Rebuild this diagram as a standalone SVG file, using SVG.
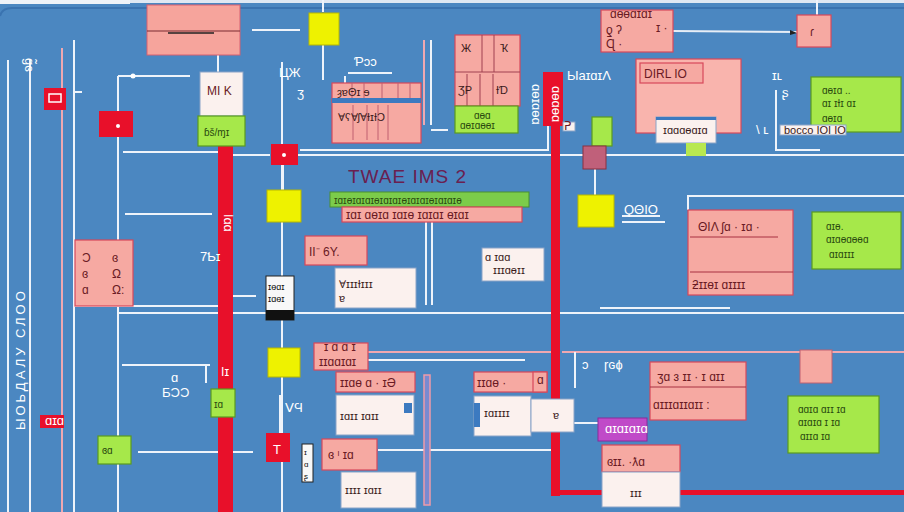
<svg xmlns="http://www.w3.org/2000/svg" width="904" height="512" viewBox="0 0 904 512">
  <style>
    .bg{fill:#4b87c1}
    .ln{stroke:#eef3fa;stroke-width:2;fill:none}
    .lnp{stroke:#f0a8b0;stroke-width:2;fill:none}
    .pink{fill:#f6a9a2;stroke:#d8485a;stroke-width:1.2}
    .red{fill:#e8102a}
    .yel{fill:#eef200;stroke:#b8b800;stroke-width:1}
    .grn{fill:#a6e84a;stroke:#5a9a20;stroke-width:1.2}
    .wht{fill:#fbf1ee;stroke:#8aa4c8;stroke-width:1}
    .t{font-family:"Liberation Sans",Arial,sans-serif;font-size:12px;fill:#6a1a24}
    .tw{font-family:"Liberation Sans",Arial,sans-serif;font-size:13px;fill:#ffffff}
    .tg{font-family:"Liberation Sans",Arial,sans-serif;font-size:10px;fill:#2a4a10}
    .tb{font-family:"Liberation Sans",Arial,sans-serif;font-size:11px;fill:#3a1a1a}
  </style>
  <rect class="bg" width="904" height="512"/>
  <!-- top frame -->
  <rect x="0" y="0" width="130" height="4" fill="#eef2f8"/>
  <rect x="130" y="0" width="774" height="3" fill="#dfe8f3"/>
  <path d="M0 16 Q2 8 12 8 L904 8" stroke="#3a73b0" stroke-width="2" fill="none"/>

  <g id="connectors">
    <!-- left rails -->
    <path class="ln" d="M8 60 V512"/>
    <path class="ln" d="M30 60 V512"/>
    <path class="lnp" d="M62 48 V512"/>
    <path class="ln" d="M74 40 V512"/>
    <path class="ln" d="M118 76 V512"/>
    <path class="ln" d="M118 76 H190"/>
    <circle cx="133" cy="76" r="2.5" fill="#fff"/>
    <path class="ln" d="M74 92 H82"/>
    <path class="ln" d="M218 55 V72"/>
    <path class="ln" d="M252 30 H300"/>
    <!-- long horizontal rails -->
    <path class="ln" d="M123 152 H218"/>
    <path class="ln" d="M233 155 H270"/>
    <path class="ln" d="M298 155 H904"/>
    <path class="ln" d="M125 214 H212"/>
    <path class="ln" d="M75 306 H218"/>
    <path class="ln" d="M118 313 H904"/>
    <path class="ln" d="M600 308 H730"/>
    <!-- yellow top -->
    <path class="ln" d="M323 0 V12"/>
    <path class="ln" d="M323 45 V80"/>
    <path class="ln" d="M282 62 V512"/>
    <path class="ln" d="M283 155 V190"/>
    <path class="ln" d="M348 73 H392"/>
    <path class="ln" d="M345 76 V83"/>
    <!-- double rail near table -->
    <path class="lnp" d="M424 40 V125"/>
    <path class="ln" d="M431 40 V125 M431 130 H448"/>
    <!-- left of red column -->
    <path class="ln" d="M548 118 V150 H300"/>
    <!-- top right -->
    <path d="M672 31 L797 32" stroke="#e6edf6" stroke-width="2" fill="none"/>
    <path d="M790 30 L797 33 L790 35" fill="#222"/>
    <path class="ln" d="M817 0 V15"/>
    <path class="ln" d="M776 90 V150 H820"/>
    <path class="ln" d="M688 210 V196 H904"/>
    <path class="ln" d="M595 169 V195"/>
    <path class="ln" d="M622 222 H665 M622 216 H660"/>
    <!-- mid -->
    <path class="ln" d="M426 222 V305 M432 222 V305"/>
    <path class="ln" d="M233 296 H256"/>
    <path class="ln" d="M122 365 H210 M206 365 V383"/>
    <path class="ln" d="M138 452 H253"/>
    <path class="ln" d="M280 395 V433"/>
    <path class="lnp" d="M368 352 H555"/>
    <path class="ln" d="M368 360 H525"/>
    <path class="lnp" d="M562 352 H904"/>
    <path class="ln" d="M575 352 V388"/>
    <path class="ln" d="M378 450 H555"/>
    <path class="ln" d="M574 423 H600"/>
    <!-- red trunks -->
    <rect class="red" x="218" y="146" width="15" height="366"/>
    <rect class="red" x="543" y="72" width="20" height="54"/>
    <rect class="red" x="551" y="126" width="9" height="370"/>
    <rect class="red" x="551" y="490" width="353" height="5"/>
    <rect x="424" y="375" width="6" height="130" fill="#7a8ad0" stroke="#f09aa8" stroke-width="1.5"/>
  </g>

  <!-- left rotated labels -->
  <g id="side-labels">
    <text class="tw" transform="translate(25,58) rotate(90)" font-size="14">ɡ̃ɞ</text>
    <text class="tw" transform="translate(25,430) rotate(-90)" font-size="17" letter-spacing="3">ЫОЬДАЛУ  СЛОО</text>
  </g>

  <g id="n-top-left">
    <rect x="44" y="88" width="22" height="22" class="red"/>
    <rect x="49" y="94" width="12" height="8" fill="none" stroke="#fff" stroke-width="1.5"/>
  </g>
  <g id="n-red-a">
    <rect x="99" y="111" width="34" height="26" class="red"/>
    <circle cx="118" cy="126" r="2" fill="#fff"/>
  </g>
  <g id="n-header">
    <rect x="147" y="5" width="93" height="50" fill="#f6a49c" stroke="#d86070" stroke-width="1"/>
    <path d="M147 31 H240" stroke="#7a2a30" stroke-width="1.2"/>
    <path d="M168 33 H214" stroke="#222" stroke-width="1.5"/>
  </g>
  <g id="n-mr">
    <rect x="200" y="72" width="43" height="44" class="wht"/>
    <text class="t" x="207" y="95" font-size="14">ΜΙ Κ</text>
  </g>
  <g id="n-mr-tag">
    <rect x="198" y="116" width="47" height="30" class="grn"/>
    <text class="tg" x="204" y="136" font-size="12" fill="#1a3a0a">ɓš/ɱɪ</text>
  </g>
  <g id="n-red-b">
    <rect x="271" y="144" width="27" height="21" class="red"/>
    <circle cx="284" cy="155" r="2" fill="#fff"/>
  </g>
  <g id="n-yel-top">
    <rect x="309" y="13" width="30" height="32" class="yel"/>
  </g>
  <text class="tw" x="279" y="77">ЦЖ</text>
  <text class="tw" x="297" y="97" font-size="11">ʒ</text>
  <text class="tw" x="354" y="66" font-size="14">Ƥɔɔ</text>

  <g id="n-table">
    <rect x="332" y="83" width="89" height="60" class="pink"/>
    <rect x="332" y="98" width="89" height="5" fill="#3c7ac0"/>
    <path d="M352 83 V98 M364 83 V98 M382 83 V98 M398 83 V98 M410 83 V98 M353 105 V140 M367 105 V140 M378 105 V140 M388 105 V140" stroke="#c06070" stroke-width="1"/>
    <text class="tb" x="337" y="96">ȝɐΘɪ ɘ</text>
    <text class="tb" x="338" y="121" font-size="10">ⱯʕⱯʃⱯƗɪƗƆ</text>
  </g>
  <g id="n-grid">
    <rect x="455" y="35" width="65" height="71" class="pink"/>
    <path d="M455 72 H520 M482 35 V72 M494 35 V72 M467 74 V106 M480 74 V106 M493 74 V106" stroke="#a04050" stroke-width="1"/>
    <text class="tb" x="461" y="52">Ж</text>
    <text class="tb" x="500" y="52">Ҡ</text>
    <text class="tb" x="458" y="94">ƷΡ</text>
    <text class="tb" x="496" y="94">ƗƊ</text>
  </g>
  <g id="n-grid-tag">
    <rect x="455" y="106" width="63" height="27" class="grn"/>
    <text class="tg" x="474" y="119" font-size="8">ɑɵɑ</text>
    <text class="tg" x="460" y="129" font-size="9">ɑɵɪɑɵɵɪ</text>
  </g>
  <text class="tw" transform="translate(532,84) rotate(90)" font-size="9">ɑɵɪɑɵɑ</text>
  <text class="tw" transform="translate(552,86) rotate(90)" font-size="8" fill="#ffd0d0">ɑɵɑɵɑ</text>
  <g id="n-port">
    <rect x="563" y="122" width="12" height="9" class="wht"/>
    <text class="t" x="564" y="130" font-size="8" fill="#2a4a80">ᕈ</text>
  </g>
  <text class="tw" x="567" y="80" font-size="13">ЫaɪɑɪɅ</text>
  <g id="n-grn-small">
    <rect x="592" y="117" width="20" height="29" class="grn"/>
    <rect x="583" y="146" width="23" height="23" fill="#c0607a" stroke="#8a3040" stroke-width="1"/>
  </g>

  <g id="n-pink-tr">
    <rect x="601" y="10" width="72" height="42" class="pink"/>
    <text class="t" x="610" y="18" font-size="8">ɑɵɵɑɪɑɪ</text>
    <text class="t" x="606" y="34" font-size="13">ƍ ʔ</text>
    <text class="t" x="606" y="48" font-size="9">Ɋ ·</text>
    <text class="t" x="656" y="32" font-size="12">ɪ ·</text>
  </g>
  <g id="n-pink-corner">
    <rect x="797" y="15" width="34" height="32" class="pink"/>
    <text class="t" x="810" y="36">ɾ</text>
  </g>
  <g id="n-dirl">
    <rect x="636" y="59" width="105" height="74" fill="#f9b4ad" stroke="#d8485a" stroke-width="1.2"/>
    <rect x="640" y="63" width="63" height="20" class="pink"/>
    <text class="t" x="644" y="78" font-size="14">DIRL IO</text>
    <rect x="656" y="117" width="60" height="26" class="wht"/>
    <rect x="656" y="117" width="60" height="3" fill="#3c7ac0"/>
    <text class="tb" x="663" y="134" font-size="9">ɪɑɑɑɵɑɪɑ</text>
    <rect x="686" y="143" width="20" height="13" fill="#b8e850"/>
  </g>
  <text class="tw" x="772" y="80" font-size="14">ɪʟ</text>
  <text class="tw" x="782" y="97">ʂ</text>
  <text class="tw" x="756" y="134">\ ʟ</text>
  <g id="n-grn-tr">
    <rect x="811" y="77" width="90" height="55" class="grn"/>
    <text class="tg" x="822" y="94">ɑɵɪɑ ..</text>
    <text class="tg" x="822" y="107">ɑɪ ɪƗɪ ɑɪ</text>
    <text class="tg" x="822" y="122">ɑɵɪɑ</text>
  </g>
  <g id="n-box-r">
    <rect x="780" y="125" width="66" height="10" class="wht"/>
    <text class="tb" x="784" y="134" font-size="9">bocco  ΙΟΙ ΙΟ</text>
  </g>

  <g id="title">
    <text x="348" y="183" font-family="Liberation Sans,Arial,sans-serif" font-size="19" fill="#6a2050" letter-spacing="1">TWAE  IMS  2</text>
    <rect x="330" y="192" width="199" height="15" fill="#7ccc4a" stroke="#4a9030" stroke-width="1"/>
    <text class="tg" x="334" y="204" font-size="11" fill="#1a3a10">ɪɑɪɵɪɑɪɑɪɵɪɑɪɑɪɵɪɑɪɑɪɵɪɑɪɑɪɵ</text>
    <rect x="342" y="207" width="180" height="15" class="pink"/>
    <text class="t" x="346" y="219" font-size="10">ɪɑɪ ɑɵɪɑ ɪɑɪɵ ɪɑɪɑɪ ɵɪɑɪ</text>
  </g>

  <g id="n-yel-a">
    <rect x="267" y="190" width="34" height="32" class="yel"/>
  </g>
  <g id="n-yel-b">
    <rect x="578" y="195" width="36" height="32" class="yel"/>
  </g>
  <text class="tw" x="624" y="214" font-size="12">ϘΘIO</text>

  <g id="n-pink-left">
    <rect x="75" y="240" width="58" height="66" class="pink"/>
    <text class="t" x="82" y="262" font-size="12">Ɔ</text>
    <text class="t" x="82" y="278" font-size="12">ɞ</text>
    <text class="t" x="82" y="294" font-size="12">ɑ</text>
    <text class="t" x="112" y="262" font-size="12">ɞ</text>
    <text class="t" x="112" y="278" font-size="12">Ω</text>
    <text class="t" x="112" y="294" font-size="12">Ω:</text>
  </g>
  <text class="tw" x="200" y="261" font-size="13">7Ƅɪ</text>
  <text class="tw" transform="translate(224,214) rotate(90)" font-size="10">ǀɑɑ</text>

  <g id="n-bw">
    <rect x="266" y="276" width="28" height="44" fill="#f8f8f8" stroke="#222" stroke-width="1"/>
    <rect x="266" y="310" width="28" height="10" fill="#111"/>
    <text x="268" y="290" font-family="Liberation Sans,Arial,sans-serif" font-size="9" fill="#111">ɪɵɑɪ</text>
    <text x="268" y="302" font-family="Liberation Sans,Arial,sans-serif" font-size="9" fill="#111">ɪɑɵɪ</text>
  </g>

  <g id="n-pink-ii">
    <rect x="305" y="236" width="62" height="29" class="pink"/>
    <text class="t" x="309" y="256" font-size="15">ΙΙ⁻ 6Y.</text>
  </g>
  <g id="n-white-a">
    <rect x="335" y="268" width="81" height="40" class="wht"/>
    <text class="tb" x="339" y="288" font-size="11">ⱯɪɪɪƗɪɪɪ</text>
    <text class="tb" x="339" y="302" font-size="11">ɐ</text>
  </g>
  <g id="n-white-b">
    <rect x="482" y="248" width="62" height="33" class="wht"/>
    <text class="tb" x="485" y="261" font-size="9">ɑ ɪɑɑ</text>
    <text class="tb" x="493" y="274" font-size="9">ɪɪɪɑɵɪɪ</text>
  </g>
  <g id="n-pink-big">
    <rect x="688" y="210" width="105" height="85" class="pink"/>
    <path d="M690 237 H778 M690 272 H793" stroke="#a83040" stroke-width="1"/>
    <text class="t" x="698" y="231" font-size="12">ΘΙΛ ʃɑ · ɪɑ ·</text>
    <text class="t" x="692" y="289" font-size="11">ƻɪɪɵɪ ɑɪɪɪɪ</text>
  </g>
  <g id="n-grn-mr">
    <rect x="812" y="212" width="89" height="57" class="grn"/>
    <text class="tg" x="826" y="230">ɑɪɵ.</text>
    <text class="tg" x="826" y="243">ɑɪɑɵɑɵɵɑ</text>
    <text class="tg" x="829" y="258">ɑɪɑɪɪɪ</text>
  </g>

  <!-- lower left -->
  <text class="tw" x="171" y="382" font-size="14">ɑ</text>
  <text class="tw" x="162" y="397" font-size="13">ƂƆƆ</text>
  <g id="n-red-c">
    <rect x="40" y="415" width="24" height="13" class="red"/>
    <text class="tw" x="45" y="425" font-size="7">ɑɪɑ</text>
  </g>
  <g id="n-grn-a">
    <rect x="98" y="436" width="33" height="28" class="grn"/>
    <text class="tg" x="102" y="454" font-size="12" fill="#1a3a0a">ɞɑ</text>
  </g>
  <g id="n-grn-b">
    <rect x="211" y="389" width="24" height="28" class="grn"/>
    <text class="tg" x="214" y="408" font-size="10" fill="#1a3a0a">ɪɑ</text>
  </g>
  <text class="tw" x="221" y="376" font-size="9">ǀɪ</text>
  <g id="n-yel-c">
    <rect x="268" y="348" width="32" height="29" class="yel"/>
  </g>
  <text class="tw" x="285" y="412" font-size="14">ⅤϤ</text>
  <g id="n-red-t">
    <rect x="266" y="433" width="24" height="29" class="red"/>
    <text class="tw" x="273" y="454" font-size="13">T</text>
  </g>
  <g id="n-tall">
    <rect x="302" y="444" width="11" height="38" fill="#f8f8f8" stroke="#222" stroke-width="1"/>
    <text x="304" y="455" font-family="Liberation Sans,Arial,sans-serif" font-size="8" fill="#111">ɪ</text>
    <text x="304" y="467" font-family="Liberation Sans,Arial,sans-serif" font-size="8" fill="#111">ɑ</text>
    <text x="304" y="479" font-family="Liberation Sans,Arial,sans-serif" font-size="8" fill="#111">ʂ</text>
  </g>

  <g id="n-stack-a">
    <rect x="314" y="343" width="54" height="27" class="pink"/>
    <text class="t" x="324" y="351" font-size="6">ɪ ɑ ɑ ɪ</text>
    <text class="t" x="319" y="366" font-size="10">ɪɪɑɑɪɑɪ</text>
  </g>
  <g id="n-stack-b">
    <rect x="336" y="372" width="79" height="20" class="pink"/>
    <text class="t" x="340" y="387" font-size="11">ɪɪɑɵ ɑ · ɪƏ</text>
  </g>
  <g id="n-stack-c">
    <rect x="336" y="395" width="78" height="40" class="wht"/>
    <rect x="404" y="403" width="8" height="10" fill="#3c7ac0"/>
    <text class="tb" x="340" y="420" font-size="11">ɪɑɪɪ ɪɑɪɪ</text>
  </g>
  <g id="n-stack-d">
    <rect x="322" y="439" width="55" height="31" class="pink"/>
    <text class="t" x="328" y="459" font-size="10">ɞ  ᶦ  ɪɑ</text>
  </g>
  <g id="n-stack-e">
    <rect x="341" y="472" width="75" height="36" class="wht"/>
    <text class="tb" x="345" y="494" font-size="11">ɪɪɪɪ ɪɑɪɪ</text>
  </g>

  <g id="n-mid-a">
    <rect x="474" y="372" width="73" height="20" class="pink"/>
    <rect x="533" y="372" width="14" height="20" class="pink"/>
    <text class="t" x="477" y="387" font-size="11">ɪɪɑɵ ·</text>
    <text class="t" x="537" y="384" font-size="8">ɑ</text>
  </g>
  <g id="n-mid-b">
    <rect x="474" y="396" width="57" height="40" class="wht"/>
    <rect x="474" y="403" width="6" height="24" fill="#3c7ac0"/>
    <text class="tb" x="484" y="417" font-size="11">ɪɑɪɪɪɪ</text>
  </g>
  <g id="n-mid-c">
    <rect x="531" y="399" width="43" height="33" class="wht"/>
    <text class="tb" x="553" y="419" font-size="11">ɐ</text>
  </g>
  <g id="n-purple">
    <rect x="598" y="418" width="49" height="23" fill="#c04ac8" stroke="#8a2a9a" stroke-width="1"/>
    <text class="tw" x="605" y="433" font-size="7">ɑɪɑɪɑɪɑ</text>
  </g>
  <text class="tw" x="582" y="369" font-size="11">ↄ</text>
  <text class="tw" x="604" y="369" font-size="12">ɼɢɸ</text>
  <g id="n-pink-br">
    <rect x="650" y="362" width="96" height="58" class="pink"/>
    <path d="M650 387 H746" stroke="#a83040" stroke-width="1"/>
    <text class="t" x="657" y="381" font-size="12">ʒɑ ɜ ɪɪ · ɪ ɑɪɪ</text>
    <text class="t" x="653" y="409" font-size="12">ɑɪɪɪɑɪɪɑɪɪ :</text>
  </g>
  <g id="n-pink-bottom">
    <rect x="602" y="445" width="78" height="27" class="pink"/>
    <text class="t" x="607" y="466" font-size="13">ɞɪɪ. ·ƛɑ</text>
    <rect x="602" y="472" width="78" height="35" class="wht"/>
    <text class="tb" x="630" y="497" font-size="11">ɪɪɪ</text>
  </g>
  <g id="n-pink-sq">
    <rect x="800" y="350" width="32" height="33" fill="#f6a9a2" stroke="#c06070" stroke-width="1"/>
  </g>
  <g id="n-grn-br">
    <rect x="788" y="396" width="91" height="57" class="grn"/>
    <text class="tg" x="798" y="413">ɑɑɪɑ ɑɪɪ ɪɑ</text>
    <text class="tg" x="798" y="426">ɑɪɑɪɑ ɪ  ɪɑ</text>
    <text class="tg" x="800" y="440">ɑɪɪɑ ɪɑ</text>
  </g>
</svg>
